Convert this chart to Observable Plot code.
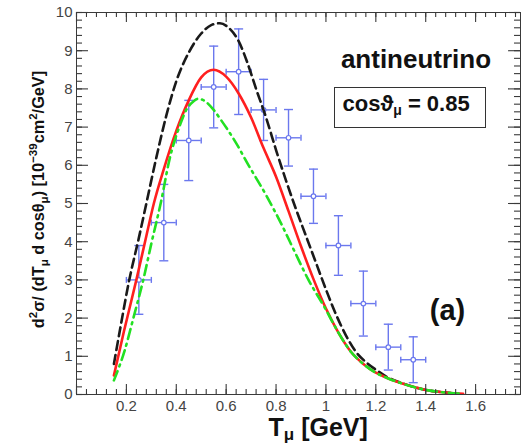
<!DOCTYPE html>
<html>
<head>
<meta charset="utf-8">
<script src="https://cdn.jsdelivr.net/npm/d3@7"></script>
<script src="https://cdn.jsdelivr.net/npm/@observablehq/plot@0.6"></script>
<style>
  html, body { margin: 0; padding: 0; background: #fff; }
</style>
</head>
<body>
<div id="chart"></div>
<script>
// ---- data ----
const pointT   = [0.25, 0.35, 0.45, 0.55, 0.65, 0.75, 0.85, 0.95, 1.05, 1.15, 1.25, 1.35];
const pointV   = [3.0, 4.5, 6.65, 8.05, 8.45, 7.45, 6.72, 5.19, 3.9, 2.38, 1.24, 0.91];
const pointErr = [0.9, 1.0, 1.05, 1.07, 1.12, 0.8, 0.74, 0.71, 0.78, 0.85, 0.6, 0.6];
const binHalfWidth = 0.05;

const redT = [0.15,0.19,0.24,0.28,0.31,0.35,0.40,0.45,0.50,0.55,0.60,0.65,0.70,0.75,0.80,0.85,0.90,0.95,1.00,1.05,1.10,1.15,1.20,1.25,1.30,1.35,1.40,1.45,1.50,1.55];
const redV = [0.5,1.65,3.0,4.15,5.0,5.9,6.9,7.7,8.3,8.5,8.32,7.88,7.25,6.45,5.7,4.8,3.88,3.02,2.25,1.62,1.12,0.8,0.57,0.42,0.3,0.2,0.12,0.07,0.04,0.02];

const blackT = [0.15,0.18,0.21,0.25,0.28,0.32,0.36,0.40,0.45,0.50,0.54,0.575,0.61,0.65,0.687,0.72,0.76,0.80,0.84,0.88,0.92,0.96,1.00,1.04,1.08,1.12,1.16,1.20,1.25,1.30,1.35,1.40,1.45,1.50];
const blackV = [0.8,1.9,2.95,4.1,5.0,6.2,7.3,8.2,8.95,9.45,9.67,9.72,9.6,9.25,8.65,8.0,7.25,6.4,5.6,4.85,4.15,3.45,2.75,2.1,1.55,1.12,0.85,0.65,0.44,0.31,0.2,0.12,0.07,0.04];

const greenT = [0.15,0.193,0.23,0.267,0.30,0.34,0.372,0.417,0.44,0.46,0.487,0.51,0.55,0.58,0.64,0.69,0.76,0.82,0.873,0.93,0.993,1.05,1.10,1.15,1.20,1.25,1.30,1.35,1.40,1.45,1.50,1.55];
const greenV = [0.37,1.15,2.05,2.98,3.95,5.08,6.13,7.09,7.45,7.62,7.74,7.7,7.45,7.18,6.58,6.0,5.22,4.48,3.76,3.0,2.3,1.62,1.12,0.8,0.57,0.42,0.3,0.2,0.12,0.07,0.04,0.02];

const xMajor  = [0, 0.2, 0.4, 0.6, 0.8, 1.0, 1.2, 1.4, 1.6];
const xLabels = [0.2, 0.4, 0.6, 0.8, 1.0, 1.2, 1.4, 1.6];
const xMinor  = d3.range(0, 1.78, 0.04);
const yMajor  = [0, 1, 2, 3, 4, 5, 6, 7, 8, 9, 10];
const yMinor  = d3.range(0, 10.001, 0.2);

// ---- tables built from the arrays ----
const points = pointT.map((t, i) => ({T: t, v: pointV[i], e: pointErr[i]}));
const red   = redT.map((t, i) => ({T: t, v: redV[i]}));
const black = blackT.map((t, i) => ({T: t, v: blackV[i]}));
const green = greenT.map((t, i) => ({T: t, v: greenV[i]}));

// ---- layout ----
const W = 526, H = 446;
const mL = 76, mR = 6, mT = 12, mB = 52;
const innerW = W - mL - mR;
const innerH = H - mT - mB;
const xDom = [0, 1.78], yDom = [0, 10];
// tick lengths in pixels, expressed in data units per axis
const ux = px => px * (xDom[1] - xDom[0]) / innerW;
const uy = px => px * (yDom[1] - yDom[0]) / innerH;

const tickColor = "#3a3a3a";
const blue = "#6b78ee";

const seg = (dx, dy) => ({draw(ctx, size) {
  const r = Math.sqrt(size / Math.PI);
  ctx.moveTo(-dx * r, -dy * r); ctx.lineTo(dx * r, dy * r);
}});
const hCap = seg(1, 0), vCap = seg(0, 1);

const fmt = d => String(+d.toFixed(1));

const chart = Plot.plot({
  width: W, height: H,
  marginLeft: mL, marginRight: mR, marginTop: mT, marginBottom: mB,
  x: {domain: xDom},
  y: {domain: yDom},
  style: {fontFamily: "'Liberation Sans', Arial, sans-serif", fontSize: "15px", background: "white", color: "#333"},
  marks: [
    // tick labels
    Plot.axisX(xLabels, {tickSize: 0, tickPadding: 6, tickFormat: fmt, fontSize: 15, fill: "#444", label: null}),
    Plot.axisY(yMajor, {tickSize: 0, tickPadding: 4, tickFormat: fmt, fontSize: 15, fill: "#444", label: null}),

    // data points with error bars
    Plot.ruleX(points, {x: "T", y1: d => d.v - d.e, y2: d => d.v + d.e, stroke: blue, strokeWidth: 1.4}),
    Plot.ruleY(points, {y: "v", x1: d => d.T - binHalfWidth, x2: d => d.T + binHalfWidth, stroke: blue, strokeWidth: 1.4}),
    Plot.dot(points, {x: "T", y: d => d.v - d.e, symbol: hCap, r: 4.5, stroke: blue, strokeWidth: 1.4, fill: "none"}),
    Plot.dot(points, {x: "T", y: d => d.v + d.e, symbol: hCap, r: 4.5, stroke: blue, strokeWidth: 1.4, fill: "none"}),
    Plot.dot(points, {x: d => d.T - binHalfWidth, y: "v", symbol: vCap, r: 3, stroke: blue, strokeWidth: 1.4, fill: "none"}),
    Plot.dot(points, {x: d => d.T + binHalfWidth, y: "v", symbol: vCap, r: 3, stroke: blue, strokeWidth: 1.4, fill: "none"}),
    Plot.dot(points, {x: "T", y: "v", r: 2.3, fill: "white", stroke: blue, strokeWidth: 1.2}),

    // model curves
    Plot.line(black, {x: "T", y: "v", stroke: "#1a1a1a", strokeWidth: 2.6, strokeDasharray: "9,5", curve: "monotone-x"}),
    Plot.line(red, {x: "T", y: "v", stroke: "#ff1f1f", strokeWidth: 2.6, curve: "monotone-x"}),
    Plot.line(green, {x: "T", y: "v", stroke: "#22e022", strokeWidth: 2.6, strokeDasharray: "10,5,2,5", curve: "monotone-x"}),

    // annotations
    Plot.text(["antineutrino"], {text: d => d, frameAnchor: "top-left", dx: 339.5, dy: 55, textAnchor: "middle", lineAnchor: "bottom", fontSize: 26, fontWeight: "bold", fill: "#111"}),
    Plot.frame({insetLeft: 258, insetRight: 35, insetTop: 75, insetBottom: 267, stroke: "#333", fill: "white"}),
    Plot.text(["COSLABEL"], {text: d => d, frameAnchor: "top-left", dx: 266, dy: 98, textAnchor: "start", lineAnchor: "bottom", fontSize: 22, fontWeight: "bold", fill: "#111"}),
    Plot.text(["(a)"], {text: d => d, frameAnchor: "top-left", dx: 371, dy: 307, textAnchor: "middle", lineAnchor: "bottom", fontSize: 29, fontWeight: "bold", fill: "#111"}),
    Plot.text(["XLABEL"], {text: d => d, frameAnchor: "bottom-left", dx: 192, dy: 41, textAnchor: "start", lineAnchor: "bottom", fontSize: 25, fontWeight: "bold", fill: "#111"}),
    Plot.text(["YLABEL"], {text: d => d, frameAnchor: "left", dx: -33, dy: -4, rotate: -90, textAnchor: "middle", lineAnchor: "bottom", fontSize: 16.3, fontWeight: "bold", fill: "#111"}),

    // frame and inward ticks on all four sides, drawn last
    Plot.frame({stroke: tickColor}),
    Plot.ruleX(xMajor, {x: d => d, y1: () => yDom[0], y2: () => yDom[0] + uy(10), stroke: tickColor, strokeWidth: 1.1}),
    Plot.ruleX(xMinor, {x: d => d, y1: () => yDom[0], y2: () => yDom[0] + uy(5), stroke: tickColor, strokeWidth: 1.1}),
    Plot.ruleX(xMajor, {x: d => d, y1: () => yDom[1] - uy(10), y2: () => yDom[1], stroke: tickColor, strokeWidth: 1.1}),
    Plot.ruleX(xMinor, {x: d => d, y1: () => yDom[1] - uy(5), y2: () => yDom[1], stroke: tickColor, strokeWidth: 1.1}),
    Plot.ruleY(yMajor, {y: d => d, x1: () => xDom[0], x2: () => xDom[0] + ux(12), stroke: tickColor, strokeWidth: 1.1}),
    Plot.ruleY(yMinor, {y: d => d, x1: () => xDom[0], x2: () => xDom[0] + ux(6), stroke: tickColor, strokeWidth: 1.1}),
    Plot.ruleY(yMajor, {y: d => d, x1: () => xDom[1] - ux(12), x2: () => xDom[1], stroke: tickColor, strokeWidth: 1.1}),
    Plot.ruleY(yMinor, {y: d => d, x1: () => xDom[1] - ux(6), x2: () => xDom[1], stroke: tickColor, strokeWidth: 1.1})
  ]
});

document.getElementById("chart").appendChild(chart);

// rich text (sub/superscripts) as real SVG tspans
const rich = {
  "YLABEL": 'd<tspan font-size="11.5" dy="-7">2</tspan><tspan dy="7">σ/ (dT</tspan><tspan font-size="11.5" dy="4">μ</tspan><tspan dy="-4"> d cosθ</tspan><tspan font-size="11.5" dy="4">μ</tspan><tspan dy="-4">) [10</tspan><tspan font-size="11.5" dy="-7">−39</tspan><tspan dy="7">cm</tspan><tspan font-size="11.5" dy="-7">2</tspan><tspan dy="7">/GeV]</tspan>',
  "XLABEL": 'T<tspan font-size="17" dy="4">μ</tspan><tspan dy="-4"> [GeV]</tspan>',
  "COSLABEL": 'cosϑ<tspan font-size="14" dy="4">μ</tspan><tspan dy="-4"> = 0.85</tspan>'
};
d3.select(chart).selectAll("text").each(function() {
  const key = this.textContent;
  if (rich[key]) this.innerHTML = rich[key];
});
</script>
</body>
</html>
